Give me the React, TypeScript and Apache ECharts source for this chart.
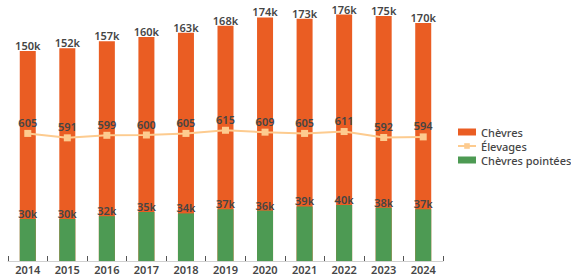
import React, { useEffect, useRef } from "react";
import * as echarts from "echarts";

const years = ["2014", "2015", "2016", "2017", "2018", "2019", "2020", "2021", "2022", "2023", "2024"];
const chevres = [150, 152, 157, 160, 163, 168, 174, 173, 176, 175, 170];
const elevages = [605, 591, 599, 600, 605, 615, 609, 605, 611, 592, 594];
const pointees = [30, 30, 32, 35, 34, 37, 36, 39, 40, 38, 37];

const FONT = "Noto Sans";
const TXT = "#454545";

export default function App() {
  const ref = useRef<HTMLDivElement>(null);
  useEffect(() => {
    if (!ref.current) return;
    const chart = echarts.init(ref.current, null, { renderer: "svg" });
    const barLabel = {
      show: true,
      position: "top",
      distance: 0,
      color: TXT,
      fontFamily: FONT,
      fontWeight: 600,
      fontSize: 11,
      formatter: (p: any) => p.value + "k",
    };
    chart.setOption({
      animation: false,
      textStyle: { fontFamily: FONT },
      grid: { left: 8, right: 128, top: 9, bottom: 15, containLabel: false },
      legend: {
        orient: "vertical",
        left: 452,
        top: 121,
        itemWidth: 18,
        itemHeight: 7,
        itemGap: 2,
        textStyle: { color: TXT, fontFamily: FONT, fontSize: 11, fontWeight: 500, lineHeight: 12 },
        data: [
          { name: "Chèvres", icon: "rect" },
          { name: "Élevages" },
          { name: "Chèvres pointées", icon: "rect" },
        ],
      },
      xAxis: {
        type: "category",
        data: years,
        boundaryGap: true,
        axisLine: { show: true, lineStyle: { color: "#d0d0d0", width: 1 } },
        axisTick: { show: true, inside: true, length: 5, lineStyle: { color: "#555" } },
        axisLabel: {
          color: TXT,
          fontFamily: FONT,
          fontWeight: 600,
          fontSize: 11,
          margin: 3,
        },
      },
      yAxis: [
        { type: "value", min: 0, max: 180, show: false },
        { type: "value", min: 200, max: 1000, show: false },
      ],
      series: [
        {
          name: "Chèvres",
          type: "bar",
          data: chevres,
          barWidth: 16,
          barGap: "-100%",
          itemStyle: { color: "#EA5D23" },
          label: barLabel,
          z: 1,
        },
        {
          name: "Chèvres pointées",
          type: "bar",
          data: pointees,
          barWidth: 16,
          barGap: "-100%",
          itemStyle: { color: "#4D9A53" },
          label: barLabel,
          z: 2,
        },
        {
          name: "Élevages",
          type: "line",
          yAxisIndex: 1,
          data: elevages,
          symbol: "rect",
          symbolSize: 7,
          lineStyle: { color: "#FDCB8F", width: 2 },
          itemStyle: { color: "#FDCB8F" },
          label: {
            show: true,
            position: "top",
            distance: 2,
            color: TXT,
            fontFamily: FONT,
            fontWeight: 600,
            fontSize: 11,
          },
          z: 3,
        },
      ],
    });
    return () => chart.dispose();
  }, []);
  return <div ref={ref} style={{ width: 571, height: 276, position: "absolute", left: 0, top: 0 }} />;
}
